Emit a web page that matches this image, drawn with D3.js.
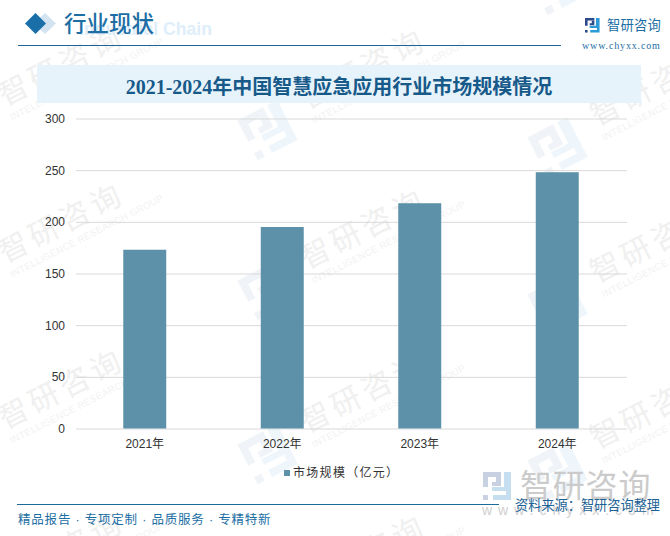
<!DOCTYPE html>
<html lang="zh">
<head>
  <meta charset="UTF-8">
  <title>2021-2024年中国智慧应急应用行业市场规模情况</title>
  <script src="https://d3js.org/d3.v7.min.js"></script>
  <style>
    html, body { margin: 0; padding: 0; background: #fff; }
    svg { display: block; }
    text { font-family: "Liberation Sans", "Noto Sans CJK SC", sans-serif; }
  </style>
</head>
<body>
  <div id="chart"></div>
  <script>
    const years = ["2021年", "2022年", "2023年", "2024年"];
    const marketSize = [173, 195, 218, 248];
    const yTicks = [0, 50, 100, 150, 200, 250, 300];
    const seriesName = "市场规模（亿元）";
    const chartTitle = "2021-2024年中国智慧应急应用行业市场规模情况";
    const footerLeft = "精品报告 · 专项定制 · 品质服务 · 专精特新";
    const footerSource = "资料来源：智研咨询整理";

    const width = 670, height = 536;
    const svg = d3.select("#chart").append("svg")
      .attr("width", width)
      .attr("height", height);

    // company logo, drawn in a 28x28 box
    function logo(g, s, c1, c2) {
      const parts = [
        ["M0 0H18V5H5V15H0Z", c1],
        ["M0 23H5V28H0Z", c1],
        ["M13 5H18V14H9V10H13Z", c1],
        ["M21 0H28V28H10V23H23V19H9V15H21Z", c2]
      ];
      parts.forEach(p => {
        g.append("path").attr("d", p[0]).attr("fill", p[1])
          .attr("transform", `scale(${s})`);
      });
    }

    // watermark grid: one column of repeats per entry, rows spaced by hand
    const markCols = [
      { x: 13, rows: [-72, 90, 247, 413, 575] },
      { x: 315, rows: [-69, 93, 253, 417, 579] },
      { x: 605, rows: [-52, 110, 267, 433, 595] }
    ];
    const marks = svg.append("g");
    markCols.forEach(col => {
      col.rows.forEach(rowY => {
        const lg = marks.append("g")
          .attr("transform", `translate(${col.x - 48},${rowY + 37}) rotate(-27) translate(-22,-22)`);
        logo(lg, 1.6, "#f0f3f7", "#eef6fb");
        const g = marks.append("g")
          .attr("transform", `translate(${col.x},${rowY}) rotate(-27)`);
        g.append("text").attr("x", -15).attr("y", 11)
          .attr("font-size", 30).attr("letter-spacing", 4.5)
          .attr("fill", "#f0f0f0").text("智研咨询");
        g.append("text").attr("x", -15).attr("y", 27)
          .attr("font-size", 9.5).attr("letter-spacing", 0.35)
          .attr("fill", "#f2f2f2").text("INTELLIGENCE RESEARCH GROUP");
      });
    });

    // header
    svg.append("text").attr("x", 79).attr("y", 35)
      .attr("font-size", 17.6).attr("font-weight", "bold")
      .attr("fill", "#deeefa").text("Industrial Chain");
    svg.append("path").attr("d", "M45 13L56 23.5L45 34L34 23.5Z").attr("fill", "#d3e4f0");
    svg.append("path").attr("d", "M35.5 13L46 23.5L35.5 34L25 23.5Z").attr("fill", "#1a6fa8");
    svg.append("text").attr("x", 64).attr("y", 32)
      .attr("font-size", 22.5).attr("font-weight", "500")
      .attr("fill", "#1c6ea4").text("行业现状");
    svg.append("line").attr("x1", 18).attr("x2", 561).attr("y1", 45.5).attr("y2", 45.5)
      .attr("stroke", "#1f6593").attr("stroke-width", 1);

    const topLogo = svg.append("g").attr("transform", "translate(585,18)");
    logo(topLogo, 0.52, "#2c4a8c", "#2b9ad6");
    svg.append("text").attr("x", 607).attr("y", 30)
      .attr("font-size", 13.3).attr("letter-spacing", 0.2)
      .attr("fill", "#1c6ea4").text("智研咨询");
    svg.append("text").attr("x", 582).attr("y", 49)
      .attr("font-size", 10).attr("letter-spacing", 0.85)
      .style("font-family", "'Liberation Serif', serif")
      .attr("fill", "#1c6ea4").text("www.chyxx.com");

    // title band
    svg.append("rect").attr("x", 37).attr("y", 65).attr("width", 604).attr("height", 38)
      .attr("fill", "#e6f3fb");
    svg.append("text").attr("x", 339).attr("y", 94)
      .attr("text-anchor", "middle").attr("font-size", 20).attr("font-weight", "bold")
      .style("font-family", "'Liberation Serif', 'Noto Sans CJK SC', serif")
      .attr("fill", "#175a8a").text(chartTitle);

    // plot
    const x = d3.scaleBand().domain(years).range([76, 626]).paddingInner(0.6875).paddingOuter(0.34375);
    const y = d3.scaleLinear().domain([0, 300]).range([428.5, 118.5]);

    const yAxis = d3.axisLeft(y).tickValues(yTicks).tickSize(-551).tickPadding(11);
    const yG = svg.append("g").attr("transform", "translate(76,0)").call(yAxis);
    yG.select(".domain").remove();
    yG.selectAll("line").attr("stroke", "#d9d9d9");
    yG.selectAll("text").attr("font-size", 12).attr("fill", "#333")
      .style("font-family", "'Liberation Sans', sans-serif");

    svg.append("g").selectAll("rect").data(years).join("rect")
      .attr("x", d => x(d))
      .attr("width", x.bandwidth())
      .attr("y", (d, i) => y(marketSize[i]))
      .attr("height", (d, i) => y(0) - y(marketSize[i]))
      .attr("fill", "#5d91a9");

    const xAxis = d3.axisBottom(x).tickSize(0).tickPadding(11);
    const xG = svg.append("g").attr("transform", "translate(0,428.5)").call(xAxis);
    xG.select(".domain").remove();
    xG.selectAll("text").attr("font-size", 12).attr("fill", "#333");

    // legend
    svg.append("rect").attr("x", 284).attr("y", 470).attr("width", 6).attr("height", 6)
      .attr("fill", "#5d91a9");
    svg.append("text").attr("x", 293).attr("y", 477)
      .attr("font-size", 12).attr("letter-spacing", 1.3).attr("fill", "#333").text(seriesName);

    // footer
    svg.append("line").attr("x1", 17).attr("x2", 499).attr("y1", 504.5).attr("y2", 504.5)
      .attr("stroke", "#1c6a9a").attr("stroke-width", 1);
    svg.append("text").attr("x", 18).attr("y", 524)
      .attr("font-size", 12.5).attr("letter-spacing", 0.8)
      .attr("fill", "#1c6ea4").text(footerLeft);

    const footLogo = svg.append("g").attr("transform", "translate(483,472)");
    logo(footLogo, 1, "#c8d1e2", "#c5dff0");
    svg.append("text").attr("x", 520).attr("y", 497)
      .attr("font-size", 32).attr("letter-spacing", 0.8)
      .attr("fill", "#cbcbcb").text("智研咨询");
    svg.append("text").attr("x", 482).attr("y", 515)
      .attr("font-size", 14).attr("letter-spacing", 6)
      .attr("fill", "#cfcfcf").text("www.chyxx.com");
    svg.append("text").attr("x", 515).attr("y", 510)
      .attr("font-size", 13.2)
      .attr("fill", "#1c6194").text(footerSource);
  </script>
</body>
</html>
